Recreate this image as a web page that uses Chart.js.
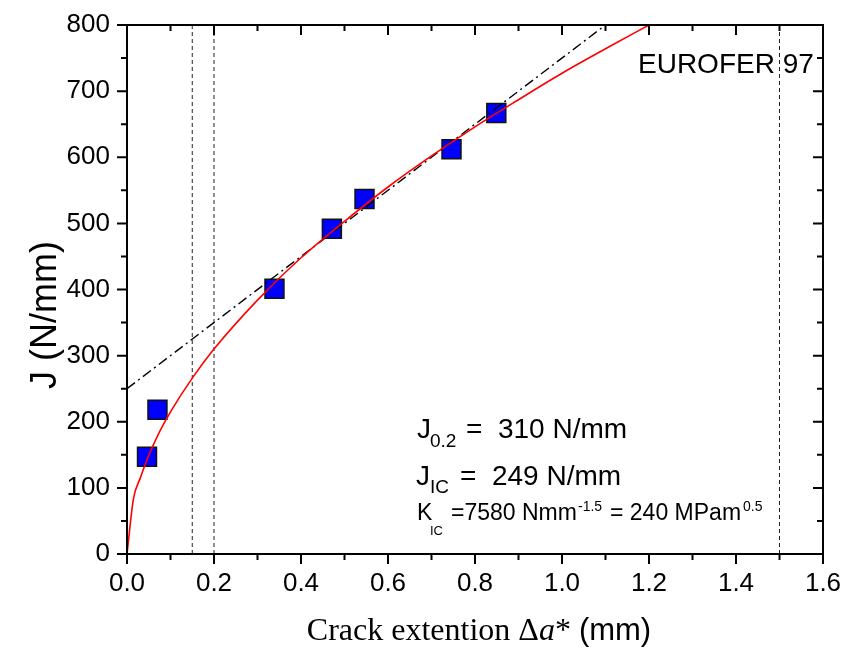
<!DOCTYPE html>
<html>
<head>
<meta charset="utf-8">
<script src="https://cdn.jsdelivr.net/npm/chart.js@4.4.0/dist/chart.umd.min.js"></script>
<style>
  body { margin: 0; background: #fff; }
</style>
</head>
<body>
<canvas id="jr" width="844" height="651"></canvas>
<script>
// measured J-R points
const crackExt = [0.046, 0.070, 0.339, 0.471, 0.546, 0.746, 0.849];
const jValues = [147, 218, 401, 492, 537, 612, 667];

// power law fit curve
const fitX = [0, 0.015, 0.03, 0.05, 0.075, 0.1, 0.15, 0.2, 0.3, 0.4, 0.5, 0.6, 0.7, 0.8, 0.9, 1.0, 1.1, 1.2];
const fitJ = [0, 84, 114, 149, 185, 215, 266, 310, 384, 448, 503, 555, 602, 646, 687, 727, 764, 800];

// blunting line
const bluntX = [0, 1.1];
const bluntJ = [250, 800];

// exclusion lines
const limitX = [0.15, 0.2, 1.5];

const xMajor = [0, 0.2, 0.4, 0.6, 0.8, 1.0, 1.2, 1.4, 1.6];
const yMajor = [0, 100, 200, 300, 400, 500, 600, 700, 800];

const SANS = '"Liberation Sans", Arial, sans-serif';
const SERIF = '"Liberation Serif", "Times New Roman", serif';

function pts(xs, ys) {
  return xs.map((x, i) => ({ x: x, y: ys[i] }));
}

let datasets = [];
datasets.push({
  label: 'fit',
  data: pts(fitX, fitJ),
  showLine: true,
  borderColor: '#ff0000',
  borderWidth: 1.6,
  pointRadius: 0,
  cubicInterpolationMode: 'monotone',
  fill: false
});
datasets.push({
  label: 'blunting',
  data: pts(bluntX, bluntJ),
  showLine: true,
  borderColor: '#000',
  borderWidth: 1.4,
  borderDash: [10, 4, 2, 4],
  pointRadius: 0
});
limitX.forEach(v => {
  datasets.push({
    label: 'limit ' + v,
    data: [{ x: v, y: 0 }, { x: v, y: 800 }],
    showLine: true,
    borderColor: '#222',
    borderWidth: 1,
    borderDash: [4, 3],
    pointRadius: 0
  });
});
datasets.push({
  label: 'data',
  data: pts(crackExt, jValues),
  showLine: false,
  pointStyle: 'rect',
  pointRadius: 13.4,
  pointBackgroundColor: '#0000ff',
  pointBorderColor: '#111',
  pointBorderWidth: 1.5
});

// frame, ticks and all the text
const decor = {
  id: 'decor',
  afterDatasetsDraw(chart) {
    const ctx = chart.ctx;
    const xs = chart.scales.x, ys = chart.scales.y;
    const a = chart.chartArea;
    ctx.save();
    ctx.strokeStyle = '#000';
    ctx.lineWidth = 2;
    ctx.strokeRect(a.left, a.top, a.right - a.left, a.bottom - a.top);

    ctx.lineWidth = 2;
    ctx.beginPath();
    for (let i = 0; i <= 16; i++) {
      const px = xs.getPixelForValue(i / 10);
      const len = i % 2 == 0 ? 10 : 6;
      ctx.moveTo(px, a.bottom); ctx.lineTo(px, a.bottom + len);
      ctx.moveTo(px, a.top); ctx.lineTo(px, a.top + len);
    }
    for (let i = 0; i <= 16; i++) {
      const py = ys.getPixelForValue(i * 50);
      const len = i % 2 == 0 ? 10 : 6;
      ctx.moveTo(a.left, py); ctx.lineTo(a.left - len, py);
      ctx.moveTo(a.right, py); ctx.lineTo(a.right - len, py);
    }
    ctx.stroke();

    ctx.fillStyle = '#000';
    ctx.textBaseline = 'alphabetic';
    ctx.textAlign = 'left';
    function run(t, x, y, size, font) {
      ctx.font = size + 'px ' + (font || SANS);
      ctx.fillText(t, x, y);
    }
    run('EUROFER 97', 638, 73, 28);

    run('J', 417, 438, 28);
    run('0.2', 430, 447, 19);
    run('=  310 N/mm', 466, 438, 28);

    run('J', 416, 485, 28);
    run('IC', 430, 493, 19);
    run('=  249 N/mm', 460, 485, 28);

    run('K', 417, 520, 23);
    run('IC', 430, 535, 13);
    run('=7580 Nmm', 451, 520, 23);
    run('-1.5', 578, 511, 14);
    run('= 240 MPam', 610, 520, 23);
    run('0.5', 743, 511, 14);

    // x title, mixed fonts
    const parts = [
      ['Crack extention \u0394', '32px ' + SERIF],
      ['a', 'italic 32px ' + SERIF],
      ['* ', '32px ' + SERIF],
      ['(mm)', '31px ' + SANS]
    ];
    let total = 0;
    parts.forEach(p => { ctx.font = p[1]; total += ctx.measureText(p[0]).width; });
    let x = 479 - total / 2;
    parts.forEach(p => {
      ctx.font = p[1];
      ctx.fillText(p[0], x, 640);
      x += ctx.measureText(p[0]).width;
    });

    // y title
    ctx.save();
    ctx.translate(56, 315);
    ctx.rotate(-Math.PI / 2);
    ctx.textAlign = 'center';
    ctx.font = '36px ' + SANS;
    ctx.fillText('J (N/mm)', 0, 0);
    ctx.restore();

    ctx.restore();
  }
};

function noPad(s) {
  s.paddingTop = 0; s.paddingBottom = 0; s.paddingLeft = 0; s.paddingRight = 0;
}

const chart = new Chart(document.getElementById('jr'), {
  type: 'scatter',
  data: { datasets: datasets },
  options: {
    responsive: false,
    animation: false,
    layout: { padding: { top: 25, right: 21, left: 0, bottom: 0 } },
    plugins: { legend: { display: false }, tooltip: { enabled: false } },
    scales: {
      x: {
        type: 'linear',
        min: 0, max: 1.6,
        afterBuildTicks: s => { s.ticks = xMajor.map(v => ({ value: v })); },
        afterFit: s => { s.height = 97; noPad(s); },
        grid: { display: false, drawTicks: false },
        border: { display: false },
        ticks: {
          padding: 14,
          color: '#000',
          font: { family: SANS, size: 26 },
          callback: v => Number(v).toFixed(1)
        }
      },
      y: {
        type: 'linear',
        min: 0, max: 800,
        afterBuildTicks: s => { s.ticks = yMajor.map(v => ({ value: v })); },
        afterFit: s => { s.width = 127; noPad(s); },
        grid: { display: false, drawTicks: false },
        border: { display: false },
        ticks: {
          padding: 17,
          color: '#000',
          font: { family: SANS, size: 26 }
        }
      }
    }
  },
  plugins: [decor]
});
</script>
</body>
</html>
